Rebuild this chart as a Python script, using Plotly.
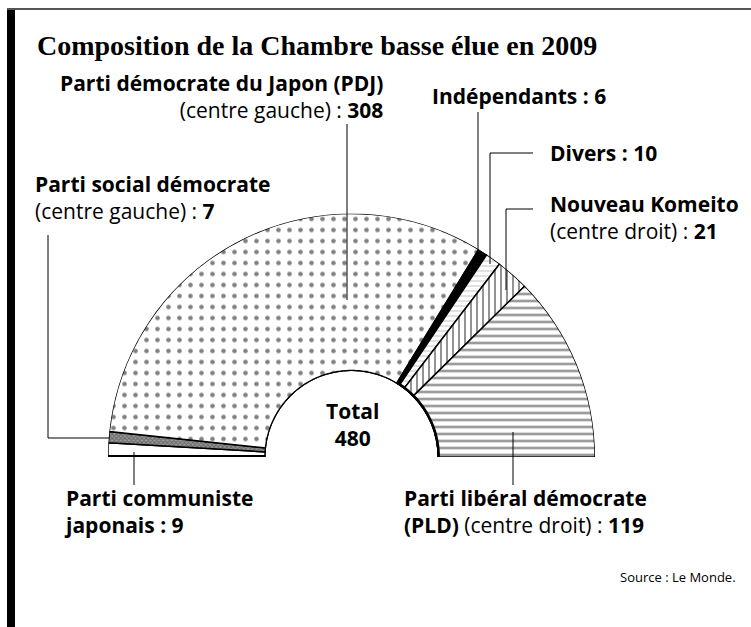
import numpy as np
import plotly.graph_objects as go

W, H = 751, 627

# ---------------- data ----------------
parties = ["Parti communiste japonais", "Parti social démocrate",
           "Parti démocrate du Japon (PDJ)", "Indépendants", "Divers",
           "Nouveau Komeito", "Parti libéral démocrate (PLD)"]
seats = [9, 7, 308, 6, 10, 21, 119]
total = sum(seats)

# ---------------- styles ----------------
bg_colors = ["white", "#9a9a9a", "white", "black", "white", "white", "white"]
fg_colors = ["black", "#303030", "black", "black", "#333333", "black", "black"]
pat_shapes = ["", "x", ".", "", "-", "|", "-"]
pat_sizes = [8, 3, 11, 8, 5, 6, 7]
pat_solid = [0.2, 0.5, 0.14, 0.2, 0.12, 0.28, 0.3]

FONT = "Open Sans"
LBL = 21

def X(px):
    return px / W

def Y(py):
    return 1 - py / H

fig = go.Figure()

cum = 0
bounds = []
for i, v in enumerate(seats):
    theta = (cum + v / 2) / total * 180
    width = v / total * 180
    bounds.append((cum / total * 180, (cum + v) / total * 180))
    cum += v
    fig.add_trace(go.Barpolar(
        r=[1], theta=[theta], width=[width], name=parties[i],
        marker=dict(color=bg_colors[i],
                    line=dict(color="black", width=1.5),
                    pattern=dict(shape=pat_shapes[i], size=pat_sizes[i],
                                 solidity=pat_solid[i],
                                 fgcolor=fg_colors[i], bgcolor=bg_colors[i])),
        hoverinfo="skip", showlegend=False))

# inner arc (thin on the whole, thick on the right part)
th_all = np.linspace(0, 180, 181)
fig.add_trace(go.Scatterpolar(r=np.zeros_like(th_all), theta=th_all, mode="lines",
                              line=dict(color="black", width=2.5),
                              cliponaxis=False, hoverinfo="skip", showlegend=False))
th_r = np.linspace(bounds[3][0], 180, 60)
fig.add_trace(go.Scatterpolar(r=np.zeros_like(th_r), theta=th_r, mode="lines",
                              line=dict(color="black", width=5),
                              cliponaxis=False, hoverinfo="skip", showlegend=False))
# thick bottom edge on the left
fig.add_trace(go.Scatterpolar(r=[0, 1], theta=[0, 0], mode="lines",
                              line=dict(color="black", width=4),
                              cliponaxis=False, hoverinfo="skip", showlegend=False))

fig.update_layout(
    width=W, height=H, autosize=False,
    margin=dict(l=0, r=0, t=0, b=0),
    paper_bgcolor="white", plot_bgcolor="white",
    polar=dict(
        domain=dict(x=[X(108), X(595)], y=[Y(457), Y(213.5)]),
        sector=[0, 180], hole=0.353, bgcolor="rgba(0,0,0,0)",
        radialaxis=dict(range=[0, 1], visible=False),
        angularaxis=dict(rotation=180, direction="clockwise", visible=False),
    ),
    bargap=0,
)

# frame
shapes = [
    dict(type="rect", xref="paper", yref="paper", x0=X(7), x1=X(15), y0=Y(627), y1=Y(10),
         fillcolor="black", line=dict(width=0)),
    dict(type="line", xref="paper", yref="paper", x0=X(7), x1=X(751), y0=Y(9), y1=Y(9),
         line=dict(color="#555555", width=2)),
]
# leader lines
leaders = [
    [(347, 124), (347, 300)],
    [(478, 112), (478, 250)],
    [(533, 153), (490, 153), (490, 264)],
    [(533, 209), (506, 209), (506, 290)],
    [(48, 235), (48, 438), (110, 438)],
    [(134, 452), (134, 485)],
    [(513, 432), (513, 485)],
]
for pts in leaders:
    for (x0, y0), (x1, y1) in zip(pts[:-1], pts[1:]):
        shapes.append(dict(type="line", xref="paper", yref="paper",
                           x0=X(x0), y0=Y(y0), x1=X(x1), y1=Y(y1),
                           line=dict(color="black", width=1)))
fig.update_layout(shapes=shapes)

ann = []
def label(text, x, y, anchor="left", size=LBL, family=FONT):
    ann.append(dict(text=text, x=X(x), y=Y(y), xref="paper", yref="paper",
                    xanchor=anchor, yanchor="middle", showarrow=False,
                    align=anchor if anchor != "center" else "center",
                    font=dict(family=family, size=size, color="black")))

label("<b>Composition de la Chambre basse élue en 2009</b>", 35, 46, size=28,
      family="Liberation Serif")
label(f"<b>Parti démocrate du Japon (PDJ)</b><br>(centre gauche) : <b>{seats[2]}</b>",
      385, 96, "right")
label(f"<b>Indépendants : {seats[3]}</b>", 430, 96)
label(f"<b>Divers : {seats[4]}</b>", 548, 153)
label(f"<b>Nouveau Komeito</b><br>(centre droit) : <b>{seats[5]}</b>", 548, 217)
label(f"<b>Parti social démocrate</b><br>(centre gauche) : <b>{seats[1]}</b>", 33, 197)
label(f"<b>Total</b><br><b>{total}</b>", 352, 425, "center", size=21)
label(f"<b>Parti communiste</b><br><b>japonais : {seats[0]}</b>", 62, 511)
label(f"<b>Parti libéral démocrate</b><br><b>(PLD)</b> (centre droit) : <b>{seats[6]}</b>",
      402, 511)
label("Source : Le Monde.", 738, 577, "right", size=13)
fig.update_layout(annotations=ann)

fig.write_html("out.html", post_script="document.body.style.margin='0';",
               config={"displayModeBar": False})
